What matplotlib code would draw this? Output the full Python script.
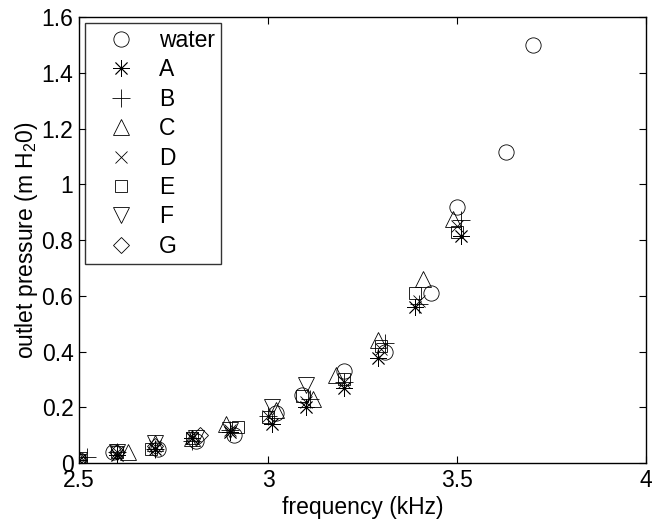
import matplotlib
matplotlib.use("Agg")
from matplotlib import pyplot as plt

plt.rcParams['font.family'] = ['Liberation Sans', 'DejaVu Sans']
plt.rcParams['mathtext.fontset'] = 'custom'
plt.rcParams['mathtext.rm'] = 'Liberation Sans'
plt.rcParams['mathtext.it'] = 'Liberation Sans'

# frequency [kHz] and outlet pressure [m H2O]
f_water = [2.50, 2.59, 2.71, 2.81, 2.91, 3.02, 3.09, 3.20, 3.31, 3.43, 3.50, 3.63, 3.70]
p_water = [0.01, 0.04, 0.05, 0.08, 0.10, 0.18, 0.245, 0.33, 0.40, 0.61, 0.92, 1.115, 1.50]

f_A = [2.50, 2.60, 2.70, 2.80, 2.90, 3.01, 3.10, 3.20, 3.29, 3.39, 3.51]
p_A = [0.01, 0.03, 0.05, 0.09, 0.11, 0.14, 0.20, 0.27, 0.375, 0.56, 0.815]

f_B = [2.52, 2.60, 2.70, 2.80, 2.90, 3.00, 3.11, 3.20, 3.31, 3.40, 3.51]
p_B = [0.02, 0.04, 0.05, 0.08, 0.12, 0.17, 0.23, 0.29, 0.43, 0.57, 0.87]

f_C = [2.50, 2.63, 2.70, 2.80, 2.89, 3.02, 3.12, 3.18, 3.29, 3.41, 3.49]
p_C = [0.01, 0.04, 0.07, 0.09, 0.14, 0.19, 0.23, 0.315, 0.44, 0.66, 0.875]

f_D = [2.50, 2.60, 2.70, 2.80, 2.90, 3.00, 3.10, 3.20, 3.30, 3.40, 3.50]
p_D = [0.01, 0.04, 0.06, 0.09, 0.12, 0.17, 0.22, 0.29, 0.41, 0.58, 0.85]

f_E = [2.50, 2.60, 2.69, 2.80, 2.92, 3.00, 3.09, 3.20, 3.30, 3.39, 3.50]
p_E = [0.01, 0.04, 0.05, 0.09, 0.13, 0.165, 0.24, 0.30, 0.42, 0.61, 0.83]

f_F = [2.50, 2.60, 2.70, 2.81, 2.90, 3.01, 3.10]
p_F = [0.01, 0.04, 0.07, 0.09, 0.12, 0.20, 0.28]

f_G = [2.50, 2.60, 2.70, 2.82]
p_G = [0.01, 0.04, 0.06, 0.10]

series = [
    ('water', f_water, p_water, 'o', 11),
    ('A', f_A, p_A, (8, 2, 0), 12),
    ('B', f_B, p_B, '+', 13),
    ('C', f_C, p_C, '^', 11),
    ('D', f_D, p_D, 'x', 8),
    ('E', f_E, p_E, 's', 9),
    ('F', f_F, p_F, 'v', 11),
    ('G', f_G, p_G, 'D', 8),
]

fs = 16.5

fig = plt.figure(figsize=(6.68, 5.23), dpi=100)
ax = fig.add_axes([0.1183, 0.1147, 0.8488, 0.8528])

for name, f, p, m, ms in series:
    ax.plot(f, p, linestyle='none', marker=m, markersize=ms,
            markerfacecolor='none', markeredgecolor='black',
            markeredgewidth=0.6, label=name)

ax.set_xlim(2.5, 4)
ax.set_ylim(0, 1.6)
ax.set_xticks([2.5, 3, 3.5, 4])
ax.set_xticklabels(['2.5', '3', '3.5', '4'])
ax.set_yticks([0, 0.2, 0.4, 0.6, 0.8, 1.0, 1.2, 1.4, 1.6])
ax.set_yticklabels(['0', '0.2', '0.4', '0.6', '0.8', '1', '1.2', '1.4', '1.6'])
ax.tick_params(direction='in', top=True, right=True, labelsize=fs, length=5, pad=4)
for s in ax.spines.values():
    s.set_linewidth(1.0)

ax.set_xlabel('frequency (kHz)', fontsize=fs, labelpad=3.5)
ax.set_ylabel('outlet pressure (m H$_2$0)', fontsize=fs, labelpad=1.5)

leg = ax.legend(loc='upper left', fontsize=fs, frameon=True, fancybox=False,
                edgecolor='black', borderaxespad=0.27, handletextpad=0.32,
                labelspacing=0.28, borderpad=0.25, handlelength=2.65)
leg.get_frame().set_linewidth(1.0)

fig.savefig('out.png', dpi=100)
